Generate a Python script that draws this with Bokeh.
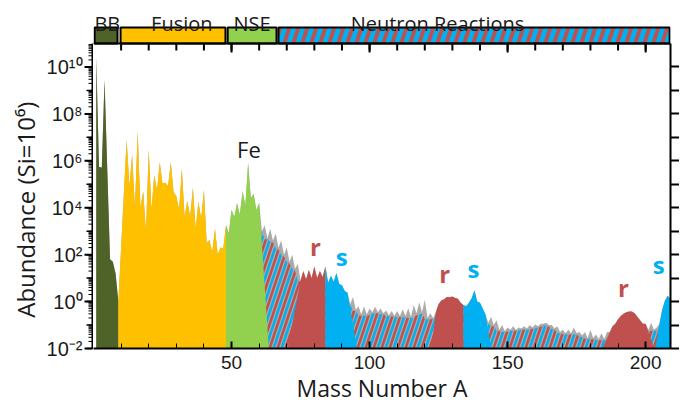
import numpy as np
from bokeh.plotting import figure
from bokeh.layouts import row
from bokeh.models import (Range1d, FixedTicker, LogAxis, CustomJSTickFormatter, Span)
from bokeh.core.properties import value
from bokeh.embed import file_html
from bokeh.resources import INLINE

# ---------------- data: log10 abundance (Si = 10^6) per mass number ----------------
mass_bb = list(range(1, 10))
log_bb = [10.4, 5.75, 5.7, 9.45, 5.6, 1.8, 1.7, 1.2, 0.0]

mass_fusion = list(range(10, 49))
log_fusion = [2.3, 4.6, 6.9, 4.95, 6.25, 4.0, 7.25, 4.0, 4.7, 3.0,
              6.47, 3.9, 5.4, 4.76, 5.94, 5.03, 5.07, 4.93, 5.94, 4.67,
              4.49, 3.92, 5.67, 3.6, 4.3, 3.6, 4.85, 3.1, 4.25, 3.54,
              4.76, 2.5, 2.62, 2.1, 3.1, 2.0, 2.3, 2.25, 3.26]

mass_nse = list(range(49, 64))
log_nse = [2.9, 3.9, 3.6, 4.2, 3.7, 4.7, 4.1, 5.9, 4.4, 4.6, 3.9, 4.2, 3.0, 3.25, 2.7]

mass_neutron = list(range(64, 210))
log_neutron = [3.1, 2.6, 2.9, 2.3, 2.6, 2.0, 2.3, 1.7, 2.0, 1.4,
               1.6, 0.9, 1.3, 0.95, 1.35, 1.0, 1.5, 1.0, 1.3, 1.05,
               1.5, 0.8, 1.1, 0.85, 1.22, 0.75, 0.7, 0.45, 0.38, -0.1,
               0.2, -0.35, -0.2, -0.55, -0.2, -0.55, -0.3, -0.45, -0.22, -0.45,
               -0.3, -0.5, -0.38, -0.58, -0.4, -0.6, -0.4, -0.62, -0.33, -0.62,
               -0.28, -0.65, -0.15, -0.5, -0.03, -0.45, 0.08, -0.7, -0.5, -0.7,
               -0.45, -0.1, 0.05, 0.1, 0.2, 0.18, 0.22, 0.15, 0.12, -0.05,
               -0.15, -0.2, -0.05, 0.15, 0.48, 0.0, -0.05, -0.3, -0.55, -0.9,
               -0.65, -1.0, -0.8, -1.2, -1.0, -1.25, -1.1, -1.2, -1.05, -1.2,
               -1.1, -1.15, -1.05, -1.15, -1.0, -1.1, -0.98, -1.05, -0.95, -0.95,
               -0.9, -1.0, -1.0, -1.15, -1.05, -1.3, -1.2, -1.35, -1.2, -1.35,
               -1.1, -1.35, -1.3, -1.45, -1.3, -1.55, -1.2, -1.55, -1.4, -1.6,
               -1.35, -1.6, -1.3, -1.3, -1.05, -0.95, -0.75, -0.62, -0.52, -0.45,
               -0.42, -0.42, -0.5, -0.65, -0.8, -0.95, -0.95, -1.2, -0.9, -1.2,
               -1.1, -0.95, -0.35, 0.05, 0.25, 0.1]

# coloured process regions: colour, left foot, first A, last A, right foot
region_colors = ["#4f6228", "#ffc000", "#92d050", "#c0504d", "#00b0f0",
                 "#c0504d", "#00b0f0", "#c0504d", "#00b0f0"]
region_foot_left = [1, 9, 48, 70.3, 84, 122.3, 134, 184.3, 203.5]
region_first = [1, 9, 48, 75, 84, 124, 134, 188, 205]
region_last = [9, 48, 60, 84, 92, 134, 142, 200, 209]
region_foot_right = [9, 48, 63.5, 84, 95.5, 134, 144, 203, 209]
mix_start = 60

# process bar on top
process_names = ["BB", "Fusion", "NSE", "Neutron Reactions"]
process_start = [0.4, 9.8, 48.6, 67.0]
process_end = [8.7, 47.8, 66.3, 208.7]
process_label_x = [5.0, 32.0, 57.4, 124.6]
process_colors = ["#4f6228", "#ffc000", "#92d050", "#00b0f0"]

# peak annotations
ann_text = ["Fe", "r", "s", "r", "s", "r", "s"]
ann_x = [56.3, 80.4, 89.9, 127.2, 137.6, 192.0, 204.7]
ann_log = [6.5, 2.33, 1.92, 1.21, 1.42, 0.58, 1.58]
ann_color = ["#1a1a1a", "#c0504d", "#00b0f0", "#c0504d", "#00b0f0", "#c0504d", "#00b0f0"]
ann_style = ["normal", "bold", "bold", "bold", "bold", "bold", "bold"]

# axis ticks
x_major = [50, 100, 150, 200]
x_minor = list(range(10, 210, 10))
y_label_exp = [-2, 0, 2, 4, 6, 8, 10]
y_tick_labels = ["10\u207b\u00b2", "10\u2070", "10\u00b2", "10\u2074", "10\u2076", "10\u2078", "10\u00b9\u2070"]
y_minor_exp = list(range(-2, 11))
y_title = "Abundance  (Si=10\u2076)"

# ---------------- derived ----------------
mass = mass_bb + mass_fusion + mass_nse + mass_neutron
logs = log_bb + log_fusion + log_nse + log_neutron
abund = [10 ** v for v in logs]
LFLOOR, LTOP_DATA = -2.0, 11.0
FLOOR = 10 ** LFLOOR
idx = {a: i for i, a in enumerate(mass)}

PAGE_PAD = 8
FRAME_W, FRAME_H, BAR_ZONE, LEFT_W, LEFT_EXTRA = 577, 340, 35, 85, 20
SX = FRAME_W / 209.0
SY = (FRAME_H - BAR_ZONE) / (LTOP_DATA - LFLOOR)
LTOP = LTOP_DATA + BAR_ZONE / SY
M = (SY / 3.0) / SX                  # stripe lean: mass units per decade

def lv(L):
    return 10.0 ** np.asarray(L)

def clip_x(pts, lo, hi):
    def clip(pts, keep, x0):
        out = []
        n = len(pts)
        for i in range(n):
            P, Q = pts[i], pts[(i + 1) % n]
            kp, kq = keep(P), keep(Q)
            if kp:
                out.append(P)
            if kp != kq:
                t = (x0 - P[0]) / (Q[0] - P[0])
                out.append((x0, P[1] + t * (Q[1] - P[1])))
        return out
    pts = clip(pts, lambda P: P[0] >= lo, lo)
    if pts:
        pts = clip(pts, lambda P: P[0] <= hi, hi)
    return pts

# ---------------- left strip: y axis line, ticks, labels and title ----------------
lf = figure(frame_width=LEFT_W, frame_height=FRAME_H + LEFT_EXTRA,
            x_range=Range1d(0, LEFT_W),
            y_range=Range1d(10 ** (LFLOOR - LEFT_EXTRA / SY), 10 ** LTOP),
            y_axis_type="log", x_axis_location=None, y_axis_location=None,
            toolbar_location=None, output_backend="svg",
            min_border_left=PAGE_PAD, min_border_right=0, min_border_top=PAGE_PAD, min_border_bottom=0)
lf.grid.visible = False
lf.outline_line_color = None
ax_x = LEFT_W - 1
lf.segment(x0=[ax_x], x1=[ax_x], y0=[FLOOR], y1=[lv(LTOP_DATA)], line_color="black", line_width=2)
minor_vals = [m * 10.0 ** k for k in y_minor_exp for m in range(1, 10) if m * 10.0 ** k <= 10 ** LTOP_DATA]
lf.segment(x0=[ax_x - 4] * len(minor_vals), x1=[ax_x] * len(minor_vals), y0=minor_vals, y1=minor_vals,
           line_color="black", line_width=1)
odd_vals = [10.0 ** k for k in y_minor_exp]
lf.segment(x0=[ax_x - 6] * len(odd_vals), x1=[ax_x] * len(odd_vals), y0=odd_vals, y1=odd_vals,
           line_color="black", line_width=1.5)
major_vals = [10.0 ** k for k in y_label_exp]
lf.segment(x0=[ax_x - 8] * len(major_vals), x1=[ax_x] * len(major_vals), y0=major_vals, y1=major_vals,
           line_color="black", line_width=2)
lf.text(x=[ax_x - 10] * len(y_label_exp), y=major_vals, text=y_tick_labels,
        text_font=value("Liberation Sans"), text_font_size="20px", text_color="#1a1a1a",
        text_align="right", text_baseline="middle")
lf.text(x=[17], y=[lv(4.05)], text=[y_title], angle=np.pi / 2,
        text_font=value("Open Sans"), text_font_size="24px", text_color="#1a1a1a",
        text_align="center", text_baseline="middle")

# ---------------- main figure ----------------
p = figure(frame_width=FRAME_W, frame_height=FRAME_H, x_range=Range1d(0, 209),
           y_range=Range1d(FLOOR, 10 ** LTOP), y_axis_type="log", y_axis_location=None,
           toolbar_location=None, output_backend="svg",
           min_border_left=0, min_border_right=0, min_border_top=PAGE_PAD, min_border_bottom=0)
p.grid.visible = False
p.outline_line_color = None

# total abundance (grey)
p.patch([1] + mass + [209], [FLOOR] + abund + [FLOOR], fill_color="#ababab", line_color=None)

# mixed r/s region: red/blue stripes under the lower envelope of the total
mix_A = np.arange(mix_start, 210)
env_log = np.array([min(logs[j] for j in (idx[a] - 1, idx[a], idx[a] + 1) if 0 <= j < len(logs)) - 0.05
                    for a in mix_A])
Ls = np.arange(LFLOOR, 5.0, 0.004)

def cross(a0):
    A = a0 + M * (Ls - LFLOOR)
    e = np.interp(A, mix_A, env_log, left=20, right=-9)
    k = np.nonzero(Ls >= e)[0]
    k = k[0] if len(k) else len(Ls) - 1
    return A[k], Ls[k]

period, width = 8 / SX, 2.7 / SX
for off, col in ((0.0, "#c0504d"), (4 / SX, "#00b0f0")):
    xs, ys = [], []
    for c in np.arange(mix_start - 6 * M + off, 209, period):
        ar, lr = cross(c + width)
        al, ll = cross(c)
        pts = clip_x([(c, LFLOOR), (c + width, LFLOOR), (ar, lr), (al, ll)], mix_start, 209)
        if len(pts) >= 3:
            xs.append([q[0] for q in pts])
            ys.append(list(lv([q[1] for q in pts])))
    p.patches(xs, ys, fill_color=col, line_color=None)

# coloured process regions
for k in range(len(region_colors)):
    a, b = region_first[k], region_last[k]
    xs = [region_foot_left[k]] + mass[idx[a]:idx[b] + 1] + [region_foot_right[k]]
    ys = [FLOOR] + abund[idx[a]:idx[b] + 1] + [FLOOR]
    p.patch(xs, ys, fill_color=region_colors[k], line_color=None)

# top process bar
bar_lo = LTOP_DATA
bar_hi = LTOP_DATA + 16 / SY
p.quad(left=process_start, right=process_end, bottom=[lv(bar_lo)] * 4, top=[lv(bar_hi)] * 4,
       fill_color=process_colors, line_color=None)
bxs, bys = [], []
bp, bw = 9 / SX, 4 / SX
for c in np.arange(process_start[3] - M * (bar_hi - bar_lo), process_end[3], bp):
    pts = [(c, bar_lo), (c + bw, bar_lo), (c + bw + M * (bar_hi - bar_lo), bar_hi),
           (c + M * (bar_hi - bar_lo), bar_hi)]
    pts = clip_x(pts, process_start[3], process_end[3])
    if len(pts) >= 3:
        bxs.append([q[0] for q in pts])
        bys.append(list(lv([q[1] for q in pts])))
p.patches(bxs, bys, fill_color="#c0504d", line_color=None)
p.quad(left=process_start, right=process_end, bottom=[lv(bar_lo)] * 4, top=[lv(bar_hi)] * 4,
       fill_color=None, line_color="black", line_width=2)
p.add_layout(Span(location=lv(LTOP_DATA), dimension="width", line_color="black", line_width=2))

top_ticks = x_minor + x_major
top_len = [7] * len(x_minor) + [9] * len(x_major)
p.segment(x0=top_ticks, x1=top_ticks, y0=[lv(LTOP_DATA)] * len(top_ticks),
          y1=[lv(LTOP_DATA - t / SY) for t in top_len], line_color="black", line_width=2)

p.text(x=process_label_x, y=[lv(LTOP_DATA + 20.5 / SY)] * 4, text=process_names,
       text_font=value("Open Sans"), text_font_size="20px",
       text_align="center", text_baseline="alphabetic", text_color="#1a1a1a")

for i in range(len(ann_text)):
    p.text(x=[ann_x[i]], y=[lv(ann_log[i])], text=[ann_text[i]],
           text_font=value("Open Sans"), text_font_size="24px" if i else "22px",
           text_font_style=ann_style[i], text_color=ann_color[i],
           text_align="center", text_baseline="middle")

# ---------------- axes ----------------
xa = p.xaxis[0]
xa.ticker = FixedTicker(ticks=x_major, minor_ticks=x_minor)
xa.major_tick_in = 7
xa.major_tick_out = 0
xa.minor_tick_in = 5
xa.minor_tick_out = 0
xa.major_label_standoff = 7
xa.major_label_text_font = "Liberation Sans"
xa.major_label_text_font_size = "19px"
xa.major_label_text_color = "#1a1a1a"
xa.axis_label = "Mass Number A"
xa.axis_label_text_font = "Open Sans"
xa.axis_label_text_font_size = "23px"
xa.axis_label_text_font_style = "normal"
xa.axis_label_text_color = "#1a1a1a"
xa.axis_label_standoff = 0
xa.axis_line_width = 2
xa.major_tick_line_width = 2

ra = LogAxis(ticker=FixedTicker(ticks=[10.0 ** k for k in y_minor_exp], minor_ticks=[]),
             formatter=CustomJSTickFormatter(code="return '';"), bounds=(FLOOR, lv(LTOP_DATA)),
             major_tick_in=0, major_tick_out=9, minor_tick_in=0, minor_tick_out=0,
             major_label_text_font_size="1px", major_label_standoff=0,
             axis_line_width=2, major_tick_line_width=2)
p.add_layout(ra, "right")

open("out.html", "w").write(file_html(row(lf, p, spacing=0), INLINE))
